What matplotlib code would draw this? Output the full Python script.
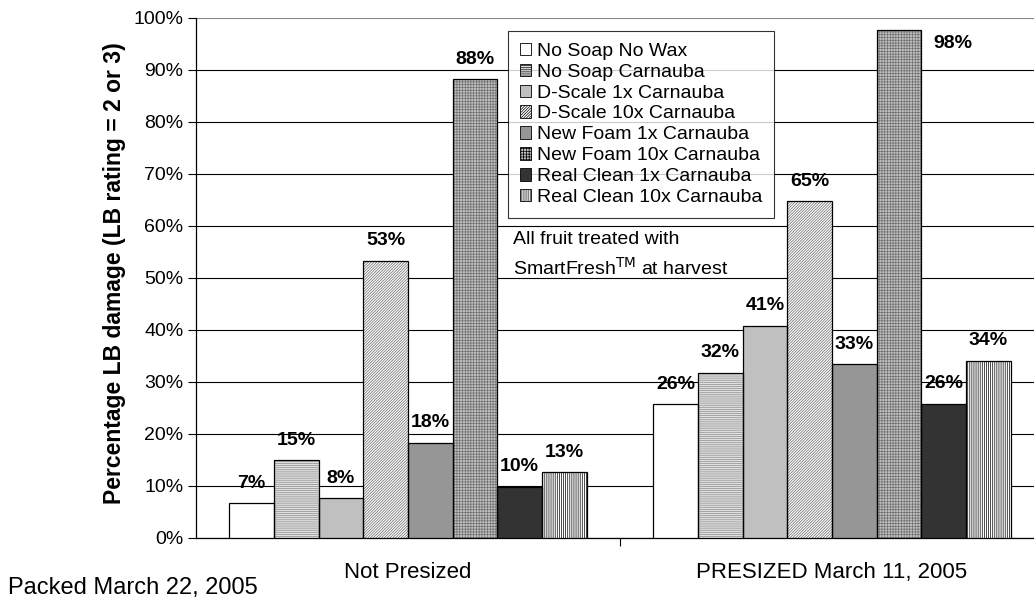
import numpy as np
import matplotlib.pyplot as plt
from matplotlib.patches import Patch

plt.rcParams['font.family'] = ['Liberation Sans', 'DejaVu Sans']
plt.rcParams['hatch.linewidth'] = 0.5

groups = ['Not Presized', 'PRESIZED March 11, 2005']
series = ['No Soap No Wax', 'No Soap Carnauba', 'D-Scale 1x Carnauba',
          'D-Scale 10x Carnauba', 'New Foam 1x Carnauba', 'New Foam 10x Carnauba',
          'Real Clean 1x Carnauba', 'Real Clean 10x Carnauba']
not_presized = [6.7, 15.0, 7.6, 53.3, 18.3, 88.2, 9.9, 12.6]
presized = [25.7, 31.8, 40.8, 64.8, 33.4, 97.6, 25.8, 34.1]

# fill colour, hatch, hatch colour
styles = [
    ('white', '', 'black'),
    ('#e0e0e0', '--------', '#8c8c8c'),
    ('#c0c0c0', '', 'black'),
    ('white', '////////////', '#666666'),
    ('#969696', '', 'black'),
    ('#c0c0c0', '++++++', '#707070'),
    ('#333333', '', 'black'),
    ('white', '||||||||', 'black'),
]

fig = plt.figure(figsize=(10.34, 5.98), dpi=100)
ax = fig.add_axes([196 / 1034, 60 / 598, 848 / 1034, 520 / 598])

x = np.arange(len(groups))
w = 0.1054
vals = np.array([not_presized, presized])
for i, name in enumerate(series):
    fc, hatch, hc = styles[i]
    pos = x - 4 * w + (i + 0.5) * w
    ax.bar(pos, vals[:, i], w, color=fc, edgecolor=hc, hatch=hatch, linewidth=0, zorder=3)
    ax.bar(pos, vals[:, i], w, fill=False, edgecolor='black', linewidth=0.9, zorder=4)
    for xp, v in zip(pos, vals[:, i]):
        if v > 95:
            # no room above the tallest bar, label goes beside it
            ax.text(xp + w * 0.77, v - 0.8, f'{v:.0f}%', ha='left', va='top',
                    fontsize=14, fontweight='bold')
        else:
            ax.text(xp, v + 2.2, f'{v:.0f}%', ha='center', va='bottom',
                    fontsize=14, fontweight='bold')

ax.set_xlim(-0.5, 1.5)
ax.set_ylim(0, 100)
ax.set_yticks(np.arange(0, 101, 10))
ax.set_yticklabels([f'{t}%' for t in range(0, 101, 10)], fontsize=14)
ax.yaxis.grid(True, color='black', linewidth=0.8, zorder=0)
ax.set_axisbelow(True)
ax.set_xticks([0.5])
ax.set_xticklabels([''])
ax.set_xticks(x, minor=True)
ax.set_xticklabels(groups, minor=True, fontsize=16)
ax.tick_params(axis='x', which='minor', length=0, pad=17)
ax.tick_params(axis='x', which='major', length=6, direction='out')
ax.tick_params(axis='y', length=6, direction='out', pad=3)
for s in ['top', 'right']:
    ax.spines[s].set_visible(False)
ax.spines['left'].set_linewidth(0.9)
ax.spines['bottom'].set_linewidth(0.9)
ax.get_ygridlines()[-1].set_color('#888888')

ax.set_ylabel('Percentage LB damage (LB rating = 2 or 3)', fontsize=16.5,
              fontweight='bold')
ax.yaxis.set_label_coords(-0.082, 0.51)

handles = [Patch(facecolor=styles[i][0], edgecolor=styles[i][2], hatch=styles[i][1],
                 linewidth=0.6) for i in range(len(series))]
leg = ax.legend(handles, series, loc='upper left',
                bbox_to_anchor=((508 - 196) / 848, (538 - 31) / 520),
                fontsize=14, frameon=True, fancybox=False, handlelength=0.6,
                handleheight=0.6, handletextpad=0.3, labelspacing=0.2,
                borderpad=0.6, borderaxespad=0)
leg.get_frame().set_edgecolor('black')
leg.get_frame().set_linewidth(0.8)
leg.set_zorder(5)
for h in leg.legend_handles:
    h.set_edgecolor('black')

ax.text((513 - 196) / 848, (538 - 240) / 520, 'All fruit treated with',
        transform=ax.transAxes, fontsize=14, va='center', ha='left', zorder=5)
ax.text((513 - 196) / 848, (538 - 268) / 520, r'SmartFresh$^{\mathrm{TM}}$ at harvest',
        transform=ax.transAxes, fontsize=14, va='center', ha='left', zorder=5)

fig.text(8 / 1034, 1 - 588 / 598, 'Packed March 22, 2005', fontsize=17,
         ha='left', va='center')

fig.savefig('out.png', dpi=100)
